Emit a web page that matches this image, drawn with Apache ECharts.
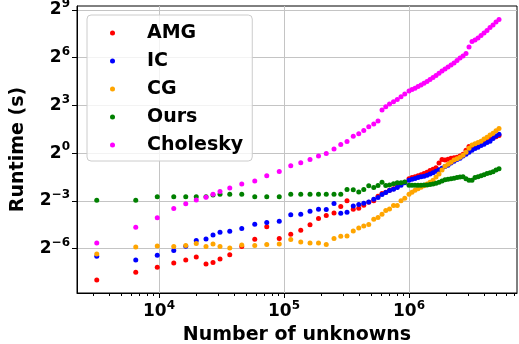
<!DOCTYPE html>
<html lang="en">

<head>
    <meta charset="UTF-8">
    <title>Runtime vs number of unknowns</title>
    <script src="https://cdn.jsdelivr.net/npm/echarts@6.0.0/dist/echarts.min.js"></script>
    <style>
        body { margin: 0; background: #fff; }
    </style>
</head>

<body>
    <div id="main" style="width: 519px; height: 344px;"></div>
    <script type="text/javascript">
        // x values: log10(number of unknowns), y values: log2(runtime in seconds)
        const unknownsLog10 = [3.502, 3.814, 3.986, 4.118, 4.214, 4.298, 4.376, 4.432, 4.488, 4.566,
            4.662, 4.766, 4.862, 4.962, 5.054, 5.134, 5.208, 5.276, 5.338, 5.400,
            5.454, 5.504, 5.554, 5.598, 5.638, 5.678, 5.718, 5.752, 5.784, 5.814,
            5.844, 5.876, 5.906, 5.936, 5.966,
            6.000, 6.024, 6.048, 6.072, 6.096, 6.120, 6.144, 6.168, 6.192, 6.216,
            6.240, 6.264, 6.288, 6.312, 6.336, 6.360, 6.384, 6.408, 6.432, 6.456,
            6.480, 6.504, 6.528, 6.552, 6.576, 6.600, 6.624, 6.648, 6.672, 6.696, 6.720];

        const amgLog2 = [-7.96, -7.48, -7.16, -6.89, -6.71, -6.52, -6.96, -6.87, -6.64, -6.37,
            -5.86, -5.40, -4.62, -5.36, -5.09, -4.84, -4.50, -4.10, -3.91, -3.75,
            -3.35, -2.99, -3.52, -3.45, -3.26, -3.08, -2.99, -2.70, -2.53, -2.45,
            -2.32, -2.23, -2.10, -1.94, -1.82,
            -1.60, -1.53, -1.47, -1.41, -1.35, -1.28, -1.19, -1.09, -1.00, -0.91,
            -0.62, -0.40, -0.43, -0.37, -0.31, -0.28, -0.25, -0.18, -0.06, 0.19,
            0.42, 0.45, 0.48, 0.51, 0.60, 0.70, 0.79, 0.89, 0.98, 1.04, 1.11];

        const icLog2 = [-6.47, -6.71, -6.41, -6.11, -5.84, -5.48, -5.38, -5.13, -4.96, -4.90,
            -4.73, -4.46, -4.35, -4.27, -3.87, -3.83, -3.64, -3.52, -3.53, -3.16,
            -3.77, -3.70, -3.31, -3.22, -3.14, -3.06, -2.89, -2.78, -2.59, -2.47,
            -2.34, -2.26, -2.15, -2.01, -1.86,
            -1.69, -1.63, -1.59, -1.53, -1.48, -1.44, -1.38, -1.31, -1.22, -1.13,
            -1.03, -0.94, -0.84, -0.75, -0.62, -0.50, -0.40, -0.31, -0.18, -0.06,
            0.07, 0.19, 0.29, 0.38, 0.48, 0.57, 0.67, 0.76, 0.92, 1.08, 1.20];

        const cgLog2 = [-6.33, -5.89, -5.82, -5.86, -5.80, -5.67, -5.86, -5.70, -5.86, -5.95,
            -5.76, -5.80, -5.74, -5.70, -5.42, -5.57, -5.64, -5.64, -5.74, -5.36,
            -5.21, -5.20, -4.88, -4.69, -4.57, -4.48, -4.15, -4.04, -3.83, -3.60,
            -3.50, -3.28, -3.28, -2.99, -2.82,
            -2.57, -2.45, -2.32, -2.23, -2.13, -2.04, -1.94, -1.82, -1.69, -1.50,
            -1.31, -1.06, -0.81, -0.69, -0.56, -0.43, -0.34, -0.25, -0.12, 0.07,
            0.32, 0.51, 0.60, 0.67, 0.76, 0.89, 1.01, 1.14, 1.26, 1.42, 1.55];

        const oursLog2 = [-2.95, -2.95, -2.74, -2.74, -2.74, -2.74, -2.74, -2.62, -2.57, -2.57,
            -2.57, -2.74, -2.74, -2.74, -2.57, -2.57, -2.57, -2.57, -2.57, -2.57,
            -2.57, -2.28, -2.30, -2.43, -2.28, -2.05, -2.15, -2.03, -1.82, -2.03,
            -1.99, -1.92, -1.86, -1.86, -1.80,
            -2.01, -2.01, -2.01, -2.01, -2.01, -1.99, -1.99, -1.96, -1.94, -1.88,
            -1.82, -1.75, -1.66, -1.63, -1.60, -1.57, -1.53, -1.50, -1.48, -1.60,
            -1.69, -1.69, -1.53, -1.47, -1.41, -1.35, -1.28, -1.22, -1.16, -1.06, -0.97];

        const choleskyLog2 = [-5.64, -4.65, -4.06, -3.47, -3.18, -2.93, -2.76, -2.57, -2.40, -2.18,
            -1.94, -1.74, -1.42, -1.14, -0.79, -0.59, -0.39, -0.18, -0.01, 0.26,
            0.55, 0.74, 1.06, 1.22, 1.43, 1.66, 1.83, 2.02, 2.71, 2.92,
            3.09, 3.23, 3.38, 3.55, 3.72,
            3.91, 4.00, 4.09, 4.19, 4.28, 4.39, 4.50, 4.63, 4.76, 4.88,
            5.02, 5.16, 5.29, 5.42, 5.54, 5.67, 5.82, 5.98, 6.11, 6.26,
            6.67, 7.02, 7.11, 7.24, 7.40, 7.55, 7.71, 7.90, 8.06, 8.25, 8.40];

        const seriesNames = ['AMG', 'IC', 'CG', 'Ours', 'Cholesky'];
        const seriesColors = ['#ff0000', '#0000ff', '#ffa500', '#008000', '#ff00ff'];
        const seriesValues = [amgLog2, icLog2, cgLog2, oursLog2, choleskyLog2];

        // tick labels (exponents)
        const xTickExps = [4, 5, 6];
        const yTickExps = [-6, -3, 0, 3, 6, 9];

        // minor ticks of the log10 axis at 2..9 x 10^k
        const xMinor = [];
        for (let k = 3; k <= 6; k++) {
            for (let m = 2; m <= 9; m++) xMinor.push(k + Math.log10(m));
        }

        const font = 'DejaVu Sans';
        const supLabel = (base, exp) => '{b|' + base + '}{s|' + String(exp).replace('-', '\u2212') + '}';
        const richLabel = {
            b: { fontFamily: font, fontWeight: 'bold', fontSize: 17, color: '#000', lineHeight: 24, verticalAlign: 'middle' },
            s: { fontFamily: font, fontWeight: 'bold', fontSize: 12, color: '#000', lineHeight: 13, verticalAlign: 'top' }
        };
        const nameStyle = { fontFamily: font, fontWeight: 'bold', fontSize: 19, color: '#000' };

        const xMin = 3.344, xMax = 6.864;
        const yMin = -8.78, yMax = 9.25;

        let myChart = echarts.init(document.getElementById('main'), null, { renderer: 'canvas' });

        const options = {
            animation: false,
            backgroundColor: '#fff',
            grid: {
                left: 77, right: 2, top: 6, bottom: 51,
                outerBoundsMode: 'none', containLabel: false,
                show: true, borderColor: '#000', borderWidth: 1, backgroundColor: 'transparent'
            },
            legend: {
                data: seriesNames,
                orient: 'vertical',
                left: 87, top: 15,
                icon: 'circle',
                itemWidth: 5, itemHeight: 5,
                itemGap: 8,
                padding: [8, 9, 6, 23],
                backgroundColor: 'rgba(255,255,255,0.8)',
                borderColor: '#cccccc', borderWidth: 1, borderRadius: 4,
                textStyle: { fontFamily: font, fontWeight: 'bold', fontSize: 19, color: '#000', lineHeight: 20, padding: [0, 0, 0, 27] }
            },
            xAxis: [{
                type: 'value', min: xMin, max: xMax,
                name: 'Number of unknowns', nameLocation: 'middle', nameGap: 33,
                nameTextStyle: nameStyle,
                axisLine: { show: true, onZero: false, lineStyle: { color: '#000', width: 1 } },
                axisTick: { show: true, length: 5, customValues: xTickExps, lineStyle: { color: '#000', width: 1 } },
                axisLabel: {
                    customValues: xTickExps, margin: 7,
                    formatter: v => supLabel('10', Math.round(v)), rich: richLabel
                },
                splitLine: { show: true, lineStyle: { color: '#c4c4c4', width: 1 } }
            }, {
                type: 'value', min: xMin, max: xMax, position: 'bottom', gridIndex: 0,
                axisLine: { show: false, onZero: false },
                axisTick: { show: true, length: 3, customValues: xMinor, lineStyle: { color: '#000', width: 1 } },
                axisLabel: { show: false },
                splitLine: { show: false }
            }],
            yAxis: {
                type: 'value', min: yMin, max: yMax,
                name: 'Runtime (s)', nameLocation: 'middle', nameGap: 49,
                nameTextStyle: nameStyle,
                axisLine: { show: true, onZero: false, lineStyle: { color: '#000', width: 1 } },
                axisTick: { show: true, length: 5, customValues: yTickExps, lineStyle: { color: '#000', width: 1 } },
                axisLabel: {
                    customValues: yTickExps, margin: 7,
                    formatter: v => supLabel('2', Math.round(v)), rich: richLabel
                },
                splitLine: { show: true, lineStyle: { color: '#c4c4c4', width: 1 } }
            },
            series: seriesNames.map((name, i) => ({
                name: name,
                type: 'scatter',
                symbol: 'circle',
                symbolSize: 5,
                itemStyle: { color: seriesColors[i], opacity: 1 },
                data: unknownsLog10.map((x, j) => [x, seriesValues[i][j]])
            }))
        };

        myChart.setOption(options);
    </script>
</body>

</html>
